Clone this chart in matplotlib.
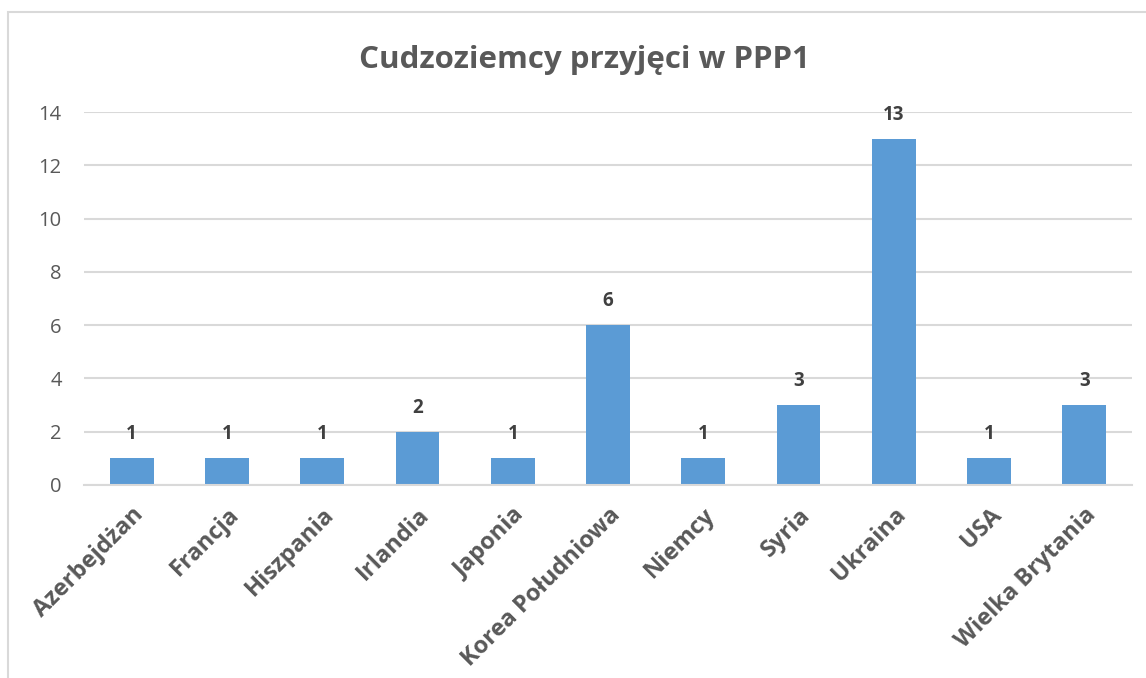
import matplotlib
matplotlib.use("Agg")
import matplotlib.pyplot as plt
from matplotlib.patches import Rectangle

categories = ["Azerbejdżan", "Francja", "Hiszpania", "Irlandia", "Japonia",
              "Korea Południowa", "Niemcy", "Syria", "Ukraina", "USA", "Wielka Brytania"]
values = [1, 1, 1, 2, 1, 6, 1, 3, 13, 1, 3]
yticks = [0, 2, 4, 6, 8, 10, 12, 14]
title = "Cudzoziemcy przyjęci w PPP1"

plt.rcParams['font.family'] = ['Open Sans', 'DejaVu Sans']

W, H = 1146, 678
fig = plt.figure(figsize=(W / 100, H / 100), dpi=100)
fig.patch.set_facecolor("white")

# chart frame (cropped at right and bottom)
fig.patches.append(Rectangle((8 / W, -0.1), 1.2, 1 - 12 / H + 0.1, transform=fig.transFigure,
                             fill=False, edgecolor="#d9d9d9", linewidth=1.5))

ax = fig.add_axes([84 / W, 1 - 485 / H, (1132 - 84) / W, (485 - 112) / H])
x = list(range(len(categories)))
ax.bar(x, values, width=0.46, color="#5b9bd5", zorder=3)
ax.set_xlim(-0.5, len(categories) - 0.5)
ax.set_ylim(0, 14)
ax.set_yticks(yticks)
ax.set_yticklabels([str(t) for t in yticks], fontsize=14.5, color="#595959")
ax.tick_params(axis='y', length=0, pad=16)
ax.tick_params(axis='x', length=0, pad=13)
ax.grid(axis='y', color="#d9d9d9", linewidth=1.5, zorder=0)
for s in ["top", "right", "left"]:
    ax.spines[s].set_visible(False)
ax.spines["bottom"].set_color("#d9d9d9")
ax.spines["bottom"].set_linewidth(1.5)
ax.spines["bottom"].set_zorder(4)

ax.set_xticks(x)
ax.set_xticklabels(categories, rotation=45, ha='right', va='top', rotation_mode='anchor',
                   fontsize=17, fontweight='bold', color="#595959")

for xi, v in zip(x, values):
    ax.annotate(str(v), (xi, v), xytext=(0, 10), textcoords='offset points',
                ha='center', va='bottom', fontsize=13.5, fontweight='bold', color="#404040")

fig.text(584 / W, 1 - 60 / H, title, ha='center', va='center', fontsize=22.5,
         fontweight='bold', color="#595959")

fig.savefig("out.png", dpi=100)
